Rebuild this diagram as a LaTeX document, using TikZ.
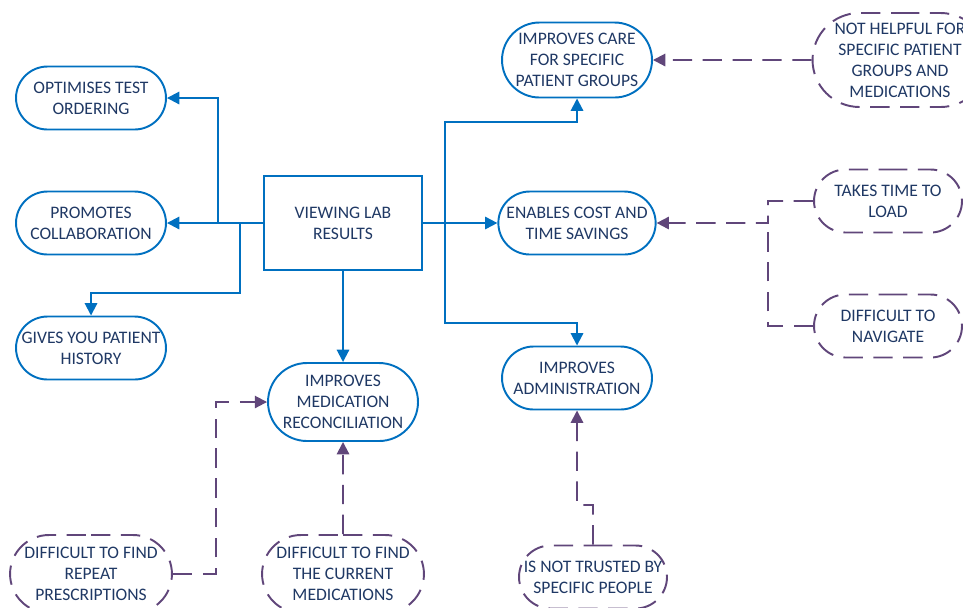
\documentclass[tikz,border=0pt]{standalone}
\usepackage{fontspec}
\setmainfont{Carlito}
\usetikzlibrary{shapes.misc, arrows.meta}
\definecolor{labblue}{RGB}{0,112,192}
\definecolor{labpurple}{RGB}{96,70,122}
\definecolor{labtext}{RGB}{31,56,100}
\tikzstyle{centre} = [rectangle, minimum width=3.16cm, minimum height=1.88cm, text centered, align=center, draw=labblue, line width=1.1pt, text=labtext, font=\fontsize{10}{12}\selectfont]
\tikzstyle{outcome} = [rounded rectangle, minimum width=3.14cm, minimum height=1.26cm, inner sep=2pt, text centered, align=center, draw=labblue, line width=1.1pt, text=labtext, font=\fontsize{10}{12}\selectfont]
\tikzstyle{barrier} = [rounded rectangle, minimum width=3.1cm, minimum height=1.26cm, inner sep=2pt, text centered, align=center, draw=labpurple, line width=1.1pt, dash pattern=on 11pt off 6pt, text=labtext, font=\fontsize{10}{12}\selectfont]
\tikzstyle{arrow} = [labblue, line width=1.1pt, -{Triangle[length=7pt,width=7pt]}]
\tikzstyle{warn} = [labpurple, line width=1.1pt, dash pattern=on 11pt off 6pt, -{Triangle[length=7pt,width=7pt]}]

\begin{document}
\begin{tikzpicture}[node distance=2.5cm]
\useasboundingbox (0,0) rectangle (19.26,-12.14);

%centre
\node (VLR) [centre] at (6.86,-4.46) {VIEWING LAB\\RESULTS};
%left column
\node (PC) [outcome, left of=VLR, xshift=-2.54cm] {PROMOTES\\COLLABORATION};
\node (OTO) [outcome, above of=PC] {OPTIMISES TEST\\ORDERING};
\node (GYP) [outcome, below of=PC] {GIVES YOU PATIENT\\HISTORY};
%middle column
\node (IMR) [outcome, below of=VLR, yshift=-1.08cm, minimum height=1.56cm] {IMPROVES\\MEDICATION\\RECONCILIATION};
\node (DCM) [barrier, below of=IMR, yshift=-0.94cm, minimum height=1.56cm] {DIFFICULT TO FIND\\THE CURRENT\\MEDICATIONS};
\node (DRP) [barrier, left of=DCM, xshift=-2.54cm, minimum height=1.56cm] {DIFFICULT TO FIND\\REPEAT\\PRESCRIPTIONS};
%right column
\node (ECT) [outcome, right of=VLR, xshift=2.18cm] {ENABLES COST AND\\TIME SAVINGS};
\node (ICP) [outcome, above of=ECT, yshift=0.76cm, minimum height=1.5cm] {IMPROVES CARE\\FOR SPECIFIC\\PATIENT GROUPS};
\node (IA) [outcome, below of=ECT, yshift=-0.6cm] {IMPROVES\\ADMINISTRATION};
\node (NTS) [barrier, below of=IA, yshift=-1.48cm, xshift=0.32cm] {IS NOT TRUSTED BY\\SPECIFIC PEOPLE};
%far right
\node (NHF) [barrier, right of=ICP, xshift=3.96cm, minimum height=1.88cm] {NOT HELPFUL FOR\\SPECIFIC PATIENT\\GROUPS AND\\MEDICATIONS};
\node (TTL) [barrier, right of=ECT, xshift=3.72cm, yshift=0.44cm] {TAKES TIME TO\\LOAD};
\node (DTN) [barrier, below of=TTL] {DIFFICULT TO\\NAVIGATE};

%junctions
\coordinate [left of=VLR] (jl);
\coordinate [left of=VLR, xshift=0.44cm] (jg);
\coordinate [right of=VLR, xshift=-0.46cm] (jr);
\coordinate [right of=ECT, xshift=1.32cm] (jn);
\coordinate [left of=IMR, xshift=-0.04cm] (jp);

%arrows
\draw [arrow] (VLR) -- (PC);
\draw [arrow] (jl) |- (OTO);
\draw [arrow] (jg) -- ++(0,-1.4) -| (GYP);
\draw [arrow] (VLR) -- (IMR);
\draw [arrow] (VLR) -- (ECT);
\draw [arrow] (jr) -- ++(0,2.02) -| (ICP);
\draw [arrow] (jr) -- ++(0,-2.0) -| (IA);

%barriers
\draw [warn] (NHF) -- (ICP);
\draw [warn] (TTL) -| (jn) -- (ECT);
\draw [warn, -] (DTN) -| (jn);
\draw [warn] (DRP) -| (jp) -- (IMR);
\draw [warn] (DCM) -- (IMR);
\draw [warn] (NTS) -- ++(0,1.44) -| (IA);

\end{tikzpicture}
\end{document}
